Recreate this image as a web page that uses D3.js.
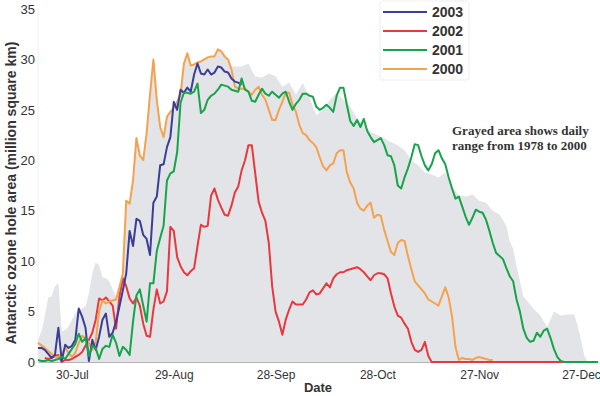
<!DOCTYPE html>
<html><head><meta charset="utf-8">
<script src="https://cdn.jsdelivr.net/npm/d3@7"></script>
<style>body{margin:0;background:#fff}svg{display:block}</style>
</head><body><svg id="c" width="600" height="396"></svg>
<script>
// day offsets from 20-Jul, values in million square km
const startDate = new Date(2003, 6, 20);
const endDate = new Date(2004, 0, 1);
const years = ["2003", "2002", "2001", "2000"];
const yTicks = [0, 5, 10, 15, 20, 25, 30, 35];
const tickDates = ["2003-07-30", "2003-08-29", "2003-09-28", "2003-10-28", "2003-11-27", "2003-12-27"];

const s2003 = [[0,1.4],[1,1.4],[2,1.2],[3,0.8],[4,0.4],[5,0.7],[6,3.4],[7,0.1],[8,1.7],[9,1.4],[10,1.6],[11,2.2],[12,5.3],[13,4.5],[14,3.4],[15,0.1],[16,2.2],[17,1.2],[18,2.5],[19,4.2],[20,4.8],[21,2.5],[22,2.9],[23,4.0],[24,5.5],[25,7.1],[26,8.8],[27,13.0],[28,11.5],[29,14.2],[30,14.0],[31,12.6],[32,12.2],[33,10.6],[34,15.8],[35,16.4],[36,19.5],[37,19.6],[38,21.3],[39,22.3],[40,25.8],[41,25.0],[42,27.0],[43,26.7],[44,27.2],[45,26.8],[46,28.5],[47,29.6],[48,28.6],[49,28.5],[50,29.0],[51,28.5],[52,28.7],[53,29.3],[54,29.2],[55,28.8],[56,28.7],[57,28.1],[58,27.8],[59,27.7],[60,27.5]];

const s2002 = [[2,0.4],[3,0.3],[4,0.4],[5,0.6],[6,0.7],[7,0.0],[8,0.2],[9,0.2],[10,0.3],[11,0.5],[12,0.7],[13,1.0],[14,1.6],[15,2.2],[16,2.9],[17,4.2],[18,6.3],[19,6.1],[20,6.4],[21,6.0],[22,5.6],[23,3.3],[24,6.5],[25,8.3],[26,7.5],[27,6.3],[28,5.8],[29,6.4],[30,5.6],[31,3.8],[32,2.6],[33,2.5],[34,5.2],[35,7.2],[36,5.8],[37,6.0],[38,7.0],[39,13.4],[40,13.0],[41,10.4],[42,9.5],[43,8.9],[44,8.6],[45,9.0],[46,9.3],[47,11.5],[48,13.6],[49,13.4],[50,13.5],[51,16.5],[52,17.2],[53,16.1],[54,15.3],[55,14.6],[56,14.5],[57,15.5],[58,16.8],[59,17.4],[60,19.0],[61,20.0],[62,21.5],[63,21.5],[64,18.7],[65,15.9],[66,14.8],[67,14.0],[68,11.8],[69,7.5],[70,5.0],[71,4.0],[72,2.7],[73,4.2],[74,5.2],[75,6.0],[76,5.7],[77,5.7],[78,5.7],[79,6.2],[80,6.9],[81,7.1],[82,6.7],[83,6.8],[84,7.3],[85,7.8],[86,7.4],[87,8.3],[88,8.7],[89,8.9],[90,8.9],[91,9.1],[92,9.2],[93,9.3],[94,9.4],[95,9.2],[96,8.9],[97,8.5],[98,8.1],[99,8.6],[100,8.8],[101,8.8],[102,8.7],[103,8.3],[104,6.8],[105,5.5],[106,4.6],[107,4.4],[108,3.8],[109,3.3],[110,2.0],[111,1.2],[112,1.0],[113,1.2],[114,2.0],[115,0.6],[116,0],[130,0],[145,0],[160,0]];

const s2001 = [[0,0.2],[1,0.1],[2,0.1],[3,0.2],[4,0.1],[5,0.2],[6,0.3],[7,0.5],[8,0.3],[9,0.8],[10,1.3],[11,1.8],[12,2.8],[13,2.0],[14,2.4],[15,0.6],[16,1.6],[17,1.4],[18,0.3],[19,1.3],[20,1.6],[21,1.5],[22,2.7],[23,1.9],[24,0.6],[25,1.5],[26,1.2],[27,0.7],[28,4.0],[29,6.6],[30,7.2],[31,5.6],[32,4.0],[33,7.8],[34,7.8],[35,11.0],[36,12.3],[37,13.5],[38,18.0],[39,18.7],[40,18.9],[41,20.8],[42,25.7],[43,26.7],[44,26.7],[45,26.6],[46,26.8],[47,27.6],[48,24.7],[49,25.0],[50,26.0],[51,26.4],[52,26.6],[53,27.0],[54,27.5],[55,27.4],[56,27.3],[57,27.0],[58,26.9],[59,26.8],[60,28.1],[61,27.0],[62,26.8],[63,25.9],[64,25.8],[65,26.5],[66,27.1],[67,26.6],[68,26.4],[69,26.8],[70,26.5],[71,26.2],[72,26.6],[73,26.8],[74,25.8],[75,25.0],[76,25.6],[77,26.0],[78,26.6],[79,26.6],[80,26.4],[81,26.3],[82,25.3],[83,25.0],[84,25.2],[85,25.5],[86,25.2],[87,24.8],[88,26.4],[89,27.2],[90,27.2],[91,25.5],[92,23.9],[93,23.4],[94,24.0],[95,23.3],[96,24.1],[97,22.9],[98,22.3],[99,21.8],[100,22.0],[101,22.2],[102,21.5],[103,20.5],[104,20.4],[105,19.5],[106,17.5],[107,17.2],[108,18.3],[109,19.2],[110,20.3],[111,21.6],[112,21.5],[113,20.4],[114,19.5],[115,19.0],[116,19.6],[117,20.7],[118,21.0],[119,20.2],[120,19.6],[121,18.3],[122,17.2],[123,16.2],[124,16.4],[125,15.4],[126,14.4],[127,13.6],[128,14.3],[129,15.1],[130,14.9],[131,14.8],[132,14.1],[133,13.0],[134,11.8],[135,10.8],[136,10.5],[137,10.2],[138,9.3],[139,8.5],[140,8.0],[141,6.2],[142,5.0],[143,3.3],[144,2.4],[145,2.0],[146,2.1],[147,2.9],[148,2.5],[149,3.1],[150,3.3],[151,2.4],[152,1.3],[153,0.5],[154,0.1],[155,0],[160,0],[165,0]];

const s2000 = [[0,1.9],[2,1.4],[4,0.8],[5,0.5],[6,0.5],[7,0.8],[8,1.4],[9,0.9],[10,0.5],[11,0.9],[12,1.9],[13,2.6],[14,2.4],[15,1.9],[16,1.2],[17,2.0],[18,5.0],[19,6.1],[20,5.8],[21,6.0],[22,6.1],[23,6.2],[24,7.4],[25,8.8],[26,16.0],[27,15.7],[28,18.0],[29,22.2],[30,20.5],[31,20.0],[32,22.7],[33,26.5],[34,30.0],[35,26.0],[36,23.3],[37,22.3],[38,24.3],[39,24.8],[40,25.2],[41,25.8],[42,26.5],[43,29.6],[44,30.6],[45,29.4],[46,29.5],[47,29.7],[48,29.8],[49,30.0],[50,30.2],[51,30.3],[52,30.3],[53,31.0],[54,30.8],[55,30.3],[56,30.0],[57,29.0],[58,27.3],[59,27.1],[60,27.1],[61,27.1],[62,26.8],[63,26.5],[64,27.0],[65,27.3],[66,26.5],[67,26.0],[68,25.0],[69,24.0],[70,24.0],[71,25.0],[72,25.8],[73,26.7],[74,26.7],[75,25.5],[76,24.8],[77,23.5],[78,22.7],[79,22.5],[80,22.0],[81,21.7],[82,21.3],[83,20.3],[84,19.4],[85,19.0],[86,19.5],[87,19.7],[88,20.7],[89,21.0],[90,21.0],[91,18.8],[92,17.8],[93,17.2],[94,15.8],[95,15.2],[96,15.0],[97,15.5],[98,15.8],[99,14.3],[100,14.6],[101,14.5],[102,13.1],[103,12.0],[104,10.9],[105,10.6],[106,11.8],[107,12.1],[108,12.0],[109,10.5],[110,9.2],[111,8.0],[112,7.6],[113,7.2],[114,6.8],[115,6.2],[116,6.0],[117,5.8],[118,5.6],[119,6.5],[120,7.4],[121,6.4],[122,4.5],[123,1.5],[124,0.2],[125,0.4],[126,0.3],[127,0.3],[128,0.2],[129,0.4],[130,0.5],[131,0.4],[132,0.3],[133,0.2],[134,0.2]];

// upper bound of 1978-2000 daily range (lower bound is 0)
const rangeMax = [[0,2.2],[1,3.0],[2,4.5],[3,6.4],[4,6.5],[5,7.5],[6,7.8],[7,3.0],[8,3.2],[9,3.5],[10,4.2],[11,4.8],[12,5.2],[13,5.3],[14,5.5],[15,6.8],[16,8.8],[17,9.9],[18,9.6],[19,8.4],[20,8.3],[21,8.0],[22,7.2],[23,6.5],[24,7.4],[25,8.8],[26,16.0],[27,15.7],[28,18.0],[29,22.2],[30,20.5],[31,20.0],[32,22.7],[33,26.5],[34,30.0],[35,26.0],[36,23.3],[37,22.3],[38,24.3],[39,24.8],[40,25.2],[41,25.8],[42,26.5],[43,29.6],[44,30.6],[45,29.4],[46,29.5],[47,29.7],[48,29.8],[49,30.0],[50,30.2],[51,30.3],[52,30.3],[53,31.0],[54,30.8],[55,30.3],[56,30.0],[57,29.3],[58,29.3],[60,29.3],[62,29.6],[64,28.3],[66,28.2],[68,28.6],[70,28.3],[72,27.3],[74,27.7],[76,26.5],[78,27.7],[80,26.2],[82,24.5],[84,25.0],[86,26.0],[88,26.7],[90,26.0],[92,25.3],[94,24.2],[96,23.5],[98,22.8],[100,22.5],[102,22.2],[104,21.8],[106,21.5],[108,21.0],[110,20.0],[112,19.5],[114,18.8],[116,18.6],[118,18.3],[120,18.8],[122,17.4],[124,16.5],[126,16.4],[128,16.6],[130,16.0],[132,15.8],[134,15.0],[136,14.6],[138,13.5],[139,12.0],[140,11.2],[141,9.5],[142,8.0],[143,6.5],[144,6.1],[146,5.3],[148,4.6],[150,3.5],[151,4.2],[152,5.0],[154,4.6],[156,4.7],[158,4.7],[159,3.6],[160,2.2],[161,0.6],[162,0]];

const colors = {"2003": "#3a3e98", "2002": "#e8383e", "2001": "#16a44a", "2000": "#f4a24e"};
const seriesByYear = {"2003": s2003, "2002": s2002, "2001": s2001, "2000": s2000};
const drawOrder = ["2002", "2000", "2003", "2001"];

const svg = d3.select("#c");
const dayDate = d => d3.timeDay.offset(startDate, d);
const x = d3.scaleTime().domain([startDate, endDate]).range([38, 598]);
const y = d3.scaleLinear().domain([0, 35]).range([362, 9]);
const fmt = d3.timeFormat("%d-%b");
const font = "'Liberation Sans', Arial, sans-serif";

// range area
svg.append("path")
  .datum(rangeMax)
  .attr("fill", "#e3e4e8")
  .attr("d", d3.area().x(p => x(dayDate(p[0]))).y0(y(0)).y1(p => y(p[1])));

// faint left guide
svg.append("line").attr("x1", 38).attr("x2", 38).attr("y1", y(35)).attr("y2", y(0))
  .attr("stroke", "#f0f0f0").attr("stroke-width", 1);

// x axis
const xAxis = d3.axisBottom(x)
  .tickValues(tickDates.map(s => d3.timeParse("%Y-%m-%d")(s)))
  .tickFormat(fmt).tickSize(0).tickPadding(8);
const gx = svg.append("g").attr("transform", `translate(0,${y(0)})`).call(xAxis);
gx.select(".domain").attr("stroke", "#b5b5b5").attr("stroke-width", 1);
gx.selectAll("text").attr("font-family", font).attr("font-size", 12).attr("fill", "#333");

// y axis
const yAxis = d3.axisLeft(y).tickValues(yTicks).tickSize(0).tickPadding(3);
const gy = svg.append("g").attr("transform", "translate(38,0)").call(yAxis);
gy.select(".domain").remove();
gy.selectAll("text").attr("font-family", font).attr("font-size", 13).attr("fill", "#333");

// lines
const line = d3.line().x(p => x(dayDate(p[0]))).y(p => y(p[1]));
drawOrder.forEach(yr => {
  svg.append("path").datum(seriesByYear[yr])
    .attr("fill", "none").attr("stroke", colors[yr]).attr("stroke-width", 2)
    .attr("stroke-linejoin", "round").attr("d", line);
});

// axis titles
svg.append("text").attr("x", 318).attr("y", 392).attr("text-anchor", "middle")
  .attr("font-family", font).attr("font-size", 13).attr("font-weight", "bold").attr("fill", "#333")
  .text("Date");
svg.append("text").attr("transform", "translate(16,193) rotate(-90)").attr("text-anchor", "middle")
  .attr("font-family", font).attr("font-size", 14).attr("font-weight", "bold").attr("fill", "#333")
  .text("Antarctic ozone hole area (million square km)");

// legend
const lg = svg.append("g");
lg.append("rect").attr("x", 380).attr("y", 1).attr("width", 89).attr("height", 79).attr("rx", 3)
  .attr("fill", "#fff").attr("stroke", "#eeeeee");
years.forEach((yr, i) => {
  const ly = 12 + i * 19;
  lg.append("line").attr("x1", 383).attr("x2", 427).attr("y1", ly).attr("y2", ly)
    .attr("stroke", colors[yr]).attr("stroke-width", 2);
  lg.append("text").attr("x", 432).attr("y", ly).attr("dy", "0.36em")
    .attr("font-family", font).attr("font-size", 14).attr("font-weight", "bold").attr("fill", "#333")
    .text(yr);
});

// annotation
const note = svg.append("text").attr("font-family", "'Liberation Serif', 'Times New Roman', serif")
  .attr("font-size", 13).attr("font-weight", "bold").attr("fill", "#333");
note.append("tspan").attr("x", 452).attr("y", 135).text("Grayed area shows daily");
note.append("tspan").attr("x", 452).attr("y", 150).text("range from 1978 to 2000");
</script></body></html>
